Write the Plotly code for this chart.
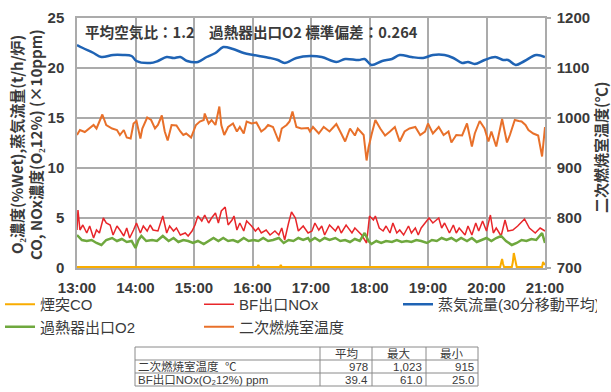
import pandas as pd
import plotly.graph_objects as go

# ---- data (minutes after 13:00 and readings) ----
steam_t = [0, 6, 17, 25, 37, 47, 56, 61, 75, 83, 92, 99, 106, 113, 124, 133, 142, 150, 160, 171,
           181, 198, 206, 213, 225, 239, 251, 266, 275, 289, 295, 302, 313, 323, 331, 343, 355,
           365, 377, 386, 395, 401, 408, 418, 429, 437, 442, 450, 459, 471, 480]
steam_v = [22.3, 22.0, 21.5, 21.1, 21.3, 21.3, 21.2, 20.7, 20.5, 20.7, 21.1, 21.0, 21.1, 20.7,
           20.6, 21.1, 21.5, 22.1, 21.9, 21.5, 21.3, 21.0, 20.8, 20.5, 21.0, 21.2, 21.1, 20.6,
           20.9, 20.8, 20.9, 20.3, 20.7, 20.9, 21.3, 21.1, 21.0, 21.3, 21.3, 21.0, 20.5, 20.6,
           20.4, 20.8, 21.1, 20.8, 20.8, 20.3, 20.7, 21.3, 21.1]

temp_t = [0, 3, 8, 13, 17, 20, 26, 30, 36, 41, 44, 48, 51, 55, 58, 61, 65, 67, 72, 76, 80, 83,
          87, 90, 93, 97, 102, 106, 109, 112, 117, 122, 126, 130, 131, 135, 138, 142, 146, 148,
          151, 155, 160, 164, 167, 171, 174, 179, 184, 189, 193, 196, 201, 207, 210, 215, 218,
          221, 225, 230, 237, 239, 242, 248, 253, 259, 266, 271, 275, 280, 285, 288, 294, 297,
          299, 302, 306, 311, 316, 321, 326, 331, 336, 341, 347, 352, 357, 360, 365, 371, 376,
          381, 384, 389, 395, 400, 405, 408, 413, 418, 422, 425, 430, 436, 441, 444, 449, 453,
          456, 460, 463, 468, 473, 477, 480]
temp_v = [966, 976, 972, 979, 986, 979, 1007, 986, 979, 976, 966, 976, 961, 959, 989, 994, 959,
          979, 1001, 996, 979, 986, 1005, 973, 955, 986, 985, 973, 966, 969, 961, 986, 993, 996,
          1009, 989, 996, 986, 1023, 986, 966, 982, 989, 973, 982, 969, 993, 989, 991, 973, 979,
          986, 982, 953, 979, 986, 993, 1013, 982, 979, 980, 973, 982, 969, 982, 973, 988, 969,
          953, 979, 965, 979, 966, 915, 941, 966, 996, 979, 965, 973, 982, 953, 973, 979, 982,
          966, 973, 989, 969, 982, 966, 973, 951, 966, 965, 989, 943, 969, 994, 979, 953, 973,
          943, 998, 951, 966, 996, 994, 993, 986, 976, 969, 965, 923, 982]

nox_t = [0, 1, 3, 6, 10, 13, 17, 20, 23, 27, 30, 34, 37, 41, 44, 48, 51, 54, 58, 61, 65, 68,
         72, 75, 78, 83, 88, 92, 95, 99, 102, 106, 111, 114, 118, 121, 124, 128, 131, 135, 138,
         142, 145, 148, 152, 155, 159, 161, 164, 167, 171, 174, 179, 183, 186, 189, 194, 198,
         203, 207, 210, 213, 217, 220, 224, 227, 232, 237, 241, 244, 248, 251, 254, 259, 265,
         268, 271, 276, 282, 285, 288, 292, 297, 300, 304, 306, 310, 314, 317, 321, 324, 328,
         331, 335, 340, 343, 347, 350, 353, 357, 361, 365, 371, 374, 377, 382, 386, 389, 392,
         398, 401, 405, 409, 412, 416, 420, 424, 427, 430, 435, 439, 442, 447, 452, 459, 464,
         470, 475, 480]
nox_v = [3.8, 5.8, 3.8, 4.3, 3.5, 4.2, 3.0, 3.8, 3.5, 5.0, 4.5, 4.3, 3.3, 4.2, 3.8, 3.2, 4.0,
         3.0, 3.8, 4.5, 3.5, 4.2, 3.7, 4.3, 3.8, 3.7, 5.2, 3.5, 4.2, 3.7, 4.0, 3.3, 3.5, 3.2,
         3.7, 4.3, 5.2, 4.7, 5.3, 4.5, 5.0, 5.5, 4.5, 5.7, 6.1, 4.3, 4.8, 5.2, 3.8, 4.5, 3.7,
         4.7, 4.2, 3.7, 4.0, 3.5, 3.8, 3.3, 3.7, 3.3, 4.0, 2.8, 4.5, 5.6, 5.0, 3.7, 4.2, 3.5,
         3.7, 4.5, 3.8, 4.2, 3.3, 4.3, 3.7, 4.2, 3.5, 4.3, 3.5, 4.0, 3.7, 3.3, 2.5, 5.2, 4.8,
         5.2, 4.0, 3.7, 4.2, 3.5, 4.5, 3.5, 3.8, 3.3, 4.2, 3.5, 4.0, 3.3, 4.0, 4.5, 5.0, 4.5,
         5.0, 4.0, 4.5, 3.5, 4.3, 3.5, 4.0, 3.3, 4.2, 3.3, 4.5, 3.7, 4.7, 3.7, 5.3, 3.5, 4.0,
         3.2, 4.8, 3.7, 3.8, 4.2, 4.9, 4.0, 3.5, 4.0, 3.7]

o2_t = [0, 5, 10, 15, 20, 25, 30, 36, 41, 46, 51, 56, 60, 63, 66, 71, 77, 82, 88, 94, 99, 104,
        109, 114, 119, 124, 130, 135, 140, 145, 150, 155, 160, 165, 171, 176, 181, 186, 191,
        196, 201, 207, 212, 217, 222, 227, 232, 237, 239, 244, 249, 254, 259, 265, 270, 275,
        280, 285, 290, 295, 299, 302, 307, 312, 317, 323, 328, 333, 338, 343, 348, 353, 359,
        364, 369, 374, 379, 384, 389, 394, 400, 405, 410, 415, 420, 425, 430, 435, 440, 446,
        451, 456, 461, 466, 471, 477, 480]
o2_v = [3.3, 2.8, 2.7, 2.8, 2.5, 2.3, 2.8, 3.0, 2.7, 2.9, 2.6, 2.7, 2.0, 2.8, 3.2, 2.7, 2.8,
        2.7, 3.2, 2.7, 3.0, 2.6, 2.8, 2.7, 2.5, 2.7, 2.4, 2.7, 3.0, 2.7, 3.0, 2.7, 2.8, 2.6,
        3.0, 2.7, 2.8, 2.7, 3.0, 2.7, 2.8, 3.0, 2.5, 2.8, 2.7, 3.0, 2.8, 3.0, 2.7, 3.0, 2.7,
        3.0, 2.8, 3.0, 2.7, 2.8, 2.6, 2.9, 2.7, 3.5, 2.7, 2.4, 2.7, 2.5, 2.7, 2.6, 2.8, 2.6,
        2.7, 2.6, 2.8, 2.7, 2.5, 2.8, 2.7, 3.0, 2.8, 3.0, 2.7, 3.0, 2.7, 3.0, 2.6, 2.8, 3.0,
        2.7, 3.0, 3.2, 2.7, 2.3, 2.5, 2.8, 2.7, 2.9, 2.8, 3.5, 2.5]

co_t = [0, 60, 120, 185, 186, 187, 200, 208, 209, 210, 240, 300, 360, 420, 434, 435, 436, 437,
        438, 446, 447, 448, 449, 450, 451, 470, 477, 478, 479, 480]
co_v = [0.1, 0.1, 0.1, 0.1, 0.3, 0.1, 0.1, 0.1, 0.3, 0.1, 0.1, 0.1, 0.1, 0.1, 0.1, 0.5, 0.9,
        0.4, 0.1, 0.1, 0.6, 1.5, 0.9, 0.3, 0.1, 0.1, 0.1, 0.6, 0.4, 0.3]

hour_labels = ["13:00", "14:00", "15:00", "16:00", "17:00", "18:00", "19:00", "20:00", "21:00"]
left_ticks = [0, 5, 10, 15, 20, 25]
right_ticks = [700, 800, 900, 1000, 1100, 1200]

table_header = ["", "平均", "最大", "最小"]
table_rows = ["二次燃焼室温度  ℃", "BF出口NOx(O₂12%) ppm"]
table_mean = ["978", "39.4"]
table_max = ["1,023", "61.0"]
table_min = ["915", "25.0"]

note_text = "平均空気比：1.2　過熱器出口O2 標準偏差：0.264"
left_title_1 = "O₂濃度(%Wet),蒸気流量(t/h/炉)"
left_title_2 = "CO, NOx濃度(O₂12%) (×10ppm)"
right_title = "二次燃焼室温度(℃)"

# ---- helpers ----
base = pd.Timestamp("2021-01-01 13:00")


def to_time(mins):
    return [base + pd.Timedelta(minutes=m) for m in mins]


W, H = 611, 392
px_l, px_r, px_t, px_b = 77, 545, 18, 268
FONT = "Noto Sans CJK JP"
MIXED_FONT = "Liberation Sans, Noto Sans CJK JP"
TXT = "#3a3a3a"
GRID = "#ababab"


def fx(px):
    return px / W


def fy(py):
    return (H - py) / H


fig = go.Figure()
fig.add_trace(go.Scatter(x=to_time(co_t), y=co_v, name="煙突CO", mode="lines",
                         line=dict(color="#F9AC00", width=2)))
fig.add_trace(go.Scatter(x=to_time(nox_t), y=nox_v, name="BF出口NOx", mode="lines",
                         line=dict(color="#E8262A", width=1.5)))
fig.add_trace(go.Scatter(x=to_time(steam_t), y=steam_v, name="蒸気流量(30分移動平均)",
                         mode="lines", line=dict(color="#1F63B4", width=2.5, shape="spline")))
fig.add_trace(go.Scatter(x=to_time(o2_t), y=o2_v, name="過熱器出口O2", mode="lines",
                         line=dict(color="#6FA83E", width=2.5)))
fig.add_trace(go.Scatter(x=to_time(temp_t), y=temp_v, name="二次燃焼室温度", mode="lines",
                         yaxis="y2", line=dict(color="#E8702A", width=2)))

tick_times = [base + pd.Timedelta(hours=i) for i in range(len(hour_labels))]
tick_font = dict(family="Liberation Sans", size=15, color=TXT, weight="bold")
title_font = dict(family=FONT, size=15, color=TXT, weight="bold")

annotations = [
    dict(text=note_text, x=fx(83), y=fy(31), xanchor="left", yanchor="middle",
         font=dict(family=FONT, size=14.6, color=TXT, weight="bold")),
    dict(text=left_title_1, x=fx(16), y=fy(145), textangle=-90, xanchor="center",
         yanchor="middle", font=title_font),
    dict(text=left_title_2, x=fx(35), y=fy(145), textangle=-90, xanchor="center",
         yanchor="middle", font=title_font),
    dict(text=right_title, x=fx(600), y=fy(148), textangle=-90, xanchor="center",
         yanchor="middle", font=title_font),
]

# summary table below the legend
col_edges = [135, 320, 372, 426, 478]
row_edges = [347, 360, 373, 386]
shapes = []
for xe in col_edges:
    shapes.append(dict(type="line", xref="paper", yref="paper", x0=fx(xe), x1=fx(xe),
                       y0=fy(row_edges[0]), y1=fy(row_edges[-1]),
                       line=dict(color="#8a8a8a", width=1)))
for ye in row_edges:
    shapes.append(dict(type="line", xref="paper", yref="paper", x0=fx(col_edges[0]),
                       x1=fx(col_edges[-1]), y0=fy(ye), y1=fy(ye),
                       line=dict(color="#8a8a8a", width=1)))

cell_font = dict(family=MIXED_FONT, size=11.5, color=TXT)
for j, head in enumerate(table_header):
    if head:
        annotations.append(dict(text=head, x=fx((col_edges[j] + col_edges[j + 1]) / 2),
                                y=fy((row_edges[0] + row_edges[1]) / 2), xanchor="center",
                                yanchor="middle", borderpad=0, font=cell_font))
columns = [table_mean, table_max, table_min]
for i, label in enumerate(table_rows):
    yc = fy((row_edges[i + 1] + row_edges[i + 2]) / 2)
    annotations.append(dict(text=label, x=fx(col_edges[0] + 2), y=yc, xanchor="left",
                            yanchor="middle", borderpad=0, font=cell_font))
    for j, col in enumerate(columns):
        annotations.append(dict(text=col[i], x=fx(col_edges[j + 2] - 3), y=yc,
                                xanchor="right", yanchor="middle", borderpad=0,
                                font=cell_font))

for a in annotations:
    a.update(xref="paper", yref="paper", showarrow=False)

fig.update_layout(
    width=W, height=H,
    margin=dict(l=0, r=0, t=0, b=0),
    paper_bgcolor="white", plot_bgcolor="white",
    font=dict(family=FONT, color=TXT, size=14),
    xaxis=dict(domain=[fx(px_l), fx(px_r)], range=[tick_times[0], tick_times[-1]],
               tickvals=tick_times, ticktext=hour_labels, automargin=False,
               showgrid=True, gridcolor=GRID, gridwidth=1.5,
               showline=True, linecolor=GRID, linewidth=1.5, mirror=True,
               tickfont=tick_font, ticks="", ticklabelstandoff=5, zeroline=False),
    yaxis=dict(domain=[fy(px_b), fy(px_t)], range=[0, 25], automargin=False,
               tickvals=left_ticks, showgrid=True, gridcolor=GRID, gridwidth=1.5,
               showline=True, linecolor=GRID, linewidth=1.5, zeroline=False,
               tickfont=tick_font, ticks="", ticklabelstandoff=8),
    yaxis2=dict(overlaying="y", side="right", range=[700, 1200], tickvals=right_ticks,
                automargin=False, showgrid=False, zeroline=False, showline=True,
                linecolor=GRID, linewidth=1.5,
                ticks="outside", ticklen=4, tickcolor=GRID, tickwidth=1.5,
                tickfont=tick_font, ticklabelstandoff=3),
    legend=dict(orientation="h", x=0, xanchor="left", y=fy(288), yanchor="top",
                entrywidth=154, entrywidthmode="pixels", itemwidth=30,
                font=dict(family=MIXED_FONT, size=15, color=TXT),
                bgcolor="rgba(0,0,0,0)", traceorder="normal"),
    showlegend=True,
    annotations=annotations,
    shapes=shapes,
)

fig.write_html("out.html")
